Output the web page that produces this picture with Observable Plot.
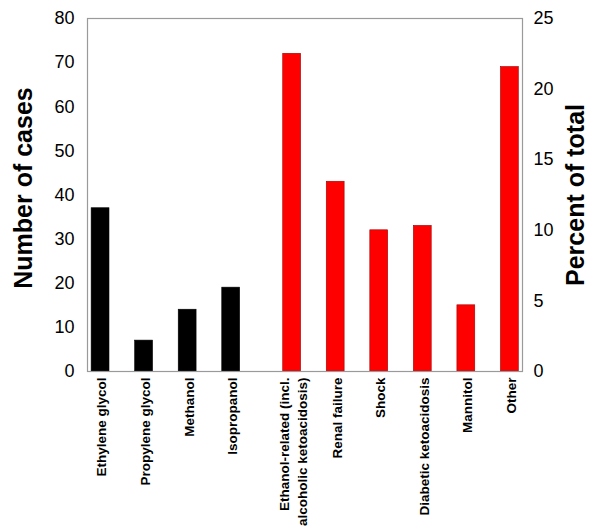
<!DOCTYPE html>
<html>
<head>
<meta charset="utf-8">
<script src="https://cdn.jsdelivr.net/npm/d3@7"></script>
<script src="https://cdn.jsdelivr.net/npm/@observablehq/plot@0.6"></script>
<style>
  html, body { margin: 0; padding: 0; background: #fff; }
  #chart svg { display: block; }
</style>
</head>
<body>
<div id="chart"></div>
<script>
const categories = [
  "Ethylene glycol", "Propylene glycol", "Methanol", "Isopropanol",
  "Ethanol-related (incl.\nalcoholic ketoacidosis)", "Renal failure", "Shock",
  "Diabetic ketoacidosis", "Mannitol", "Other"
];
const cases = [37, 7, 14, 19, 72, 43, 32, 33, 15, 69];
const groups = ["toxic", "toxic", "toxic", "toxic", "other", "other", "other", "other", "other", "other"];
const caseTicks = [0, 10, 20, 30, 40, 50, 60, 70, 80];
const percentTicks = [0, 5, 10, 15, 20, 25];
const maxCases = 80, maxPercent = 25;

const groupGap = 0.4;
const data = categories.map((c, i) => ({
  label: c,
  cases: cases[i],
  group: groups[i],
  pos: i + (groups[i] === "other" ? groupGap : 0)
}));
const half = 0.205;
const font = "'Liberation Sans', Arial, Helvetica, sans-serif";

const chart = Plot.plot({
  width: 600,
  height: 530,
  marginLeft: 87,
  marginRight: 78,
  marginTop: 18,
  marginBottom: 159,
  style: { fontFamily: font, background: "#fff", color: "#000" },
  x: { domain: [-0.3, 9.69], axis: null },
  y: { domain: [0, maxCases], axis: null },
  marks: [
    Plot.rectY(data, {
      x1: d => d.pos - half,
      x2: d => d.pos + half,
      y1: 0,
      y2: "cases",
      fill: d => d.group === "toxic" ? "#000000" : "#ff0000",
      stroke: d => d.group === "toxic" ? "#000000" : "#a00000",
      strokeWidth: 0.6
    }),
    Plot.frame({ stroke: "#9a9a9a", strokeWidth: 1.2 }),
    Plot.axisY(caseTicks, {
      anchor: "left",
      tickSize: 0,
      tickPadding: 13,
      fontSize: 18,
      label: null
    }),
    Plot.axisY(percentTicks.map(p => p * maxCases / maxPercent), {
      anchor: "right",
      tickSize: 0,
      tickPadding: 11,
      fontSize: 18,
      tickFormat: v => String(Math.round(v * maxPercent / maxCases)),
      label: null
    }),
    Plot.text(data, {
      x: "pos",
      frameAnchor: "bottom",
      text: "label",
      rotate: -90,
      textAnchor: "end",
      lineAnchor: "middle",
      lineHeight: 1.36,
      dy: 6,
      fontSize: 13.5,
      fontWeight: "bold",
      fill: "#000"
    }),
    Plot.text(["Number of cases"], {
      frameAnchor: "left",
      text: d => d,
      rotate: -90,
      textAnchor: "middle",
      lineAnchor: "middle",
      dx: -64,
      dy: -7,
      fontSize: 25,
      fontWeight: "bold",
      fill: "#000"
    }),
    Plot.text(["Percent of total"], {
      frameAnchor: "right",
      text: d => d,
      rotate: -90,
      textAnchor: "middle",
      lineAnchor: "middle",
      dx: 53,
      dy: 0,
      fontSize: 25,
      fontWeight: "bold",
      fill: "#000"
    })
  ]
});
document.getElementById("chart").appendChild(chart);
</script>
</body>
</html>
